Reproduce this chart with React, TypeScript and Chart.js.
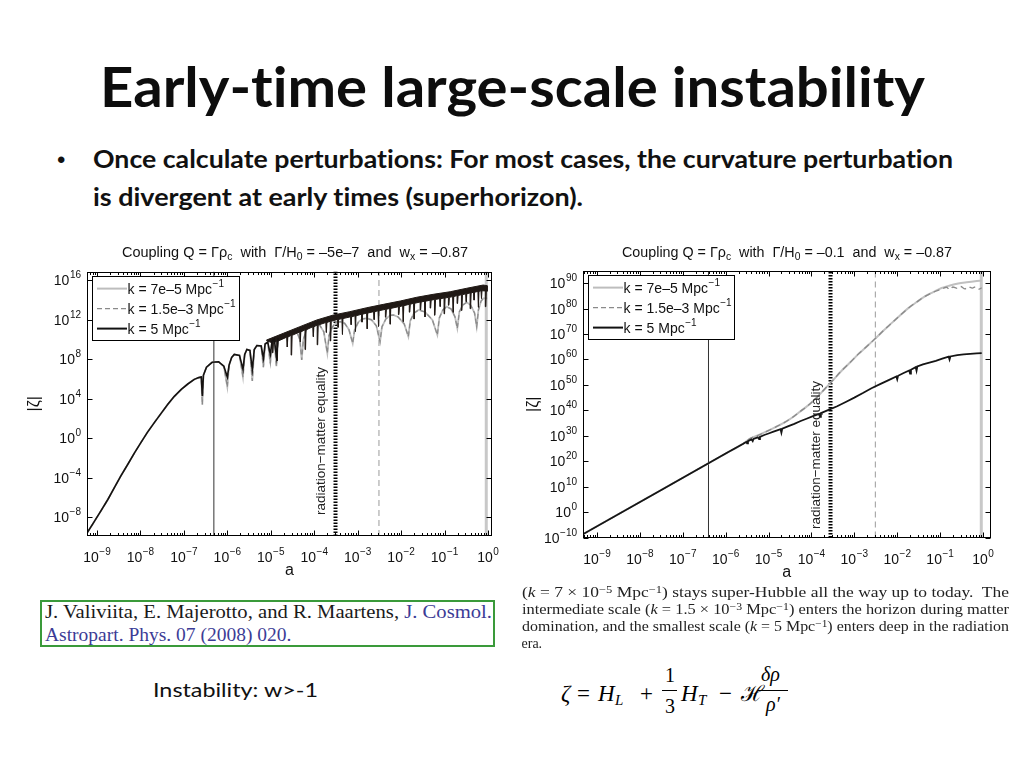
import React, { useEffect, useLayoutEffect, useRef } from "react";
import { Chart, registerables } from "chart.js";

Chart.register(...registerables);

const SANS = '"Liberation Sans", Arial, Helvetica, sans-serif';
const SERIF = '"Liberation Serif", "Times New Roman", "DejaVu Serif", serif';
const SLIDE = 'Lato, "Open Sans", "Noto Sans", sans-serif';
const K_LATO = 0.887;
const K_SANS = 0.846;
const K_SERIF = 0.8375;

// ===== Data (log10 a, log10 |zeta|) =====
// ---- Left panel: Γ/H0 = −5e−7 ----
const leftXTicks = [-9, -8, -7, -6, -5, -4, -3, -2, -1, 0];
const leftYTicks = [-8, -4, 0, 4, 8, 12, 16];

const leftEarlyLogA = [-9.23, -9.1, -8.91, -8.75, -8.6, -8.45, -8.29, -8.14, -7.99, -7.84, -7.68, -7.52, -7.37, -7.22, -7.06, -6.91, -6.76, -6.66];
const leftEarlyLogZeta = [-9.6, -8.7, -7.36, -6.2, -5.0, -3.8, -2.63, -1.5, -0.44, 0.6, 1.59, 2.55, 3.44, 4.25, 4.96, 5.5, 5.97, 6.15];

const leftOscLogA = [-6.6, -6.575, -6.55, -6.48, -6.35, -6.2, -6.08, -6.0, -5.96, -5.9, -5.84, -5.72, -5.64, -5.6, -5.55, -5.48, -5.425, -5.38, -5.32, -5.22, -5.17, -5.13, -5.07, -5.01, -4.97, -4.92, -4.87, -4.83];
const leftK5OscLogZeta = [6.21, 4.3, 6.4, 7.2, 7.7, 7.75, 7.3, 6.2, 7.4, 8.2, 8.5, 8.4, 7.0, 8.5, 9.0, 8.9, 7.0, 9.0, 9.4, 9.35, 8.1, 9.55, 9.75, 8.5, 9.85, 10.05, 8.3, 10.15];
const leftGrayOscLogZeta = [6.2, 3.4, 6.4, 7.2, 7.7, 7.75, 7.3, 5.2, 7.4, 8.2, 8.5, 8.4, 6.2, 8.5, 9.0, 8.9, 5.8, 9.0, 9.4, 9.35, 7.2, 9.55, 9.75, 7.6, 9.85, 10.05, 7.3, 10.15];

// dense fast-oscillation band of k = 5 (upper edge left->right, lower edge with spikes right->left)
const leftBandTopLogA = [-5.1, -4.71, -4.33, -3.94, -3.56, -3.18, -2.79, -2.41, -2.02, -1.64, -1.26, -0.87, -0.49, -0.11, -0.02];
const leftBandTopLogZeta = [9.95, 10.64, 11.31, 11.99, 12.49, 12.83, 13.23, 13.57, 13.91, 14.29, 14.59, 14.85, 15.2, 15.53, 15.46];
const leftBandBottomLogA = [
  -0.02,
  -0.038, -0.05, -0.062, -0.138, -0.15, -0.162, -0.208, -0.22, -0.232, -0.308, -0.32, -0.332,
  -0.388, -0.4, -0.412, -0.488, -0.5, -0.512, -0.588, -0.6, -0.612, -0.688, -0.7, -0.712,
  -0.788, -0.8, -0.812, -0.888, -0.9, -0.912, -0.988, -1.0, -1.012, -1.088, -1.1, -1.112,
  -1.208, -1.22, -1.232, -1.308, -1.32, -1.332, -1.438, -1.45, -1.462, -1.538, -1.55, -1.562,
  -1.688, -1.7, -1.712, -1.788, -1.8, -1.812, -1.938, -1.95, -1.962, -2.038, -2.05, -2.062,
  -2.238, -2.25, -2.262, -2.338, -2.35, -2.362, -2.508, -2.52, -2.532, -2.608, -2.62, -2.632,
  -2.768, -2.78, -2.792, -2.888, -2.9, -2.912, -3.038, -3.05, -3.062, -3.138, -3.15, -3.162,
  -3.338, -3.35, -3.362, -3.438, -3.45, -3.462, -3.608, -3.62, -3.632, -3.708, -3.72, -3.732,
  -3.908, -3.92, -3.932, -4.008, -4.02, -4.032, -4.188, -4.2, -4.212, -4.308, -4.32, -4.332,
  -4.508, -4.52, -4.532, -4.608, -4.62, -4.632, -4.838, -4.85, -4.862, -4.938, -4.95, -4.962,
  -5.1,
];
const leftBandBottomLogZeta = [
  14.9,
  14.93, 13.33, 14.93, 14.95, 14.15, 14.95, 14.88, 13.28, 14.88, 14.8, 14.0, 14.8,
  14.73, 13.13, 14.73, 14.64, 13.84, 14.64, 14.55, 12.95, 14.55, 14.46, 13.66, 14.46,
  14.36, 12.76, 14.36, 14.28, 13.48, 14.28, 14.21, 12.61, 14.21, 14.15, 13.35, 14.15,
  14.07, 12.47, 14.07, 13.99, 13.19, 13.99, 13.89, 12.29, 13.89, 13.81, 13.01, 13.81,
  13.68, 12.08, 13.68, 13.58, 12.78, 13.58, 13.43, 11.83, 13.43, 13.33, 12.53, 13.33,
  13.16, 11.56, 13.16, 13.07, 12.27, 13.07, 12.92, 11.32, 12.92, 12.83, 12.03, 12.83,
  12.69, 11.09, 12.69, 12.57, 11.77, 12.57, 12.41, 10.81, 12.41, 12.31, 11.51, 12.31,
  12.13, 10.53, 12.13, 12.04, 11.24, 12.04, 11.86, 9.86, 11.86, 11.73, 10.73, 11.73,
  11.47, 9.47, 11.47, 11.3, 10.3, 11.3, 10.99, 8.99, 10.99, 10.78, 9.78, 10.78,
  10.43, 8.43, 10.43, 10.25, 9.25, 10.25, 9.84, 7.84, 9.84, 9.66, 8.66, 9.66,
  9.9,
];

// larger scales after they leave the k = 5 curve
const leftGrayLateLogA = [-4.75, -4.55, -4.4, -4.33, -4.288, -4.25, -4.18, -4.08, -3.98, -3.88, -3.78, -3.698, -3.66, -3.58, -3.48, -3.4, -3.3, -3.2, -3.114, -3.07, -2.98, -2.88, -2.79, -2.68, -2.57, -2.485, -2.44, -2.35, -2.25, -2.18, -2.07, -1.93, -1.833, -1.79, -1.7, -1.6, -1.45, -1.28, -1.166, -1.12, -1.04, -0.95, -0.85, -0.76, -0.706, -0.66, -0.58, -0.49, -0.4, -0.31, -0.26, -0.22, -0.16, -0.107, -0.02];
const leftGrayLateLogZeta = [10.2, 10.5, 10.8, 10.0, 7.93, 10.0, 11.0, 11.5, 11.65, 11.5, 10.8, 8.61, 10.4, 11.3, 11.75, 11.82, 11.65, 11.0, 9.62, 11.0, 11.8, 12.1, 12.16, 12.0, 11.4, 9.79, 11.3, 12.1, 12.45, 12.49, 12.3, 11.6, 10.3, 11.9, 12.7, 13.0, 12.8, 12.0, 10.47, 12.2, 13.0, 13.34, 13.1, 12.3, 11.14, 12.8, 13.5, 13.78, 13.5, 12.7, 11.31, 13.0, 13.9, 14.18, 14.2];

const leftHorizonLogA = -6.31;
const leftEqLogA = -3.51;

// ---- Right panel: Γ/H0 = −0.1 ----
const rightXTicks = [-9, -8, -7, -6, -5, -4, -3, -2, -1, 0];
const rightYTicks = [-10, 0, 10, 20, 30, 40, 50, 60, 70, 80, 90];

const rightEarlyLogA = [-9.33, -7.5, -6.0, -5.6];
const rightEarlyLogZeta = [-8.75, 8.7, 23.0, 26.8];

const rightK5LateLogA = [-5.52, -5.5, -5.48, -5.4, -5.37, -5.35, -5.25, -5.22, -5.2, -5.1, -5.0, -4.9, -4.8, -4.72, -4.7, -4.68, -4.55, -4.4, -4.25, -4.1, -3.95, -3.82, -3.8, -3.78, -3.6, -3.4, -3.2, -3.0, -2.8, -2.6, -2.4, -2.2, -2.02, -2.0, -1.98, -1.85, -1.72, -1.7, -1.68, -1.57, -1.55, -1.53, -1.4, -1.25, -1.1, -0.95, -0.8, -0.78, -0.76, -0.6, -0.45, -0.3, -0.15, -0.03];
const rightK5LateLogZeta = [27.6, 27.0, 27.9, 28.6, 27.9, 28.8, 29.4, 28.7, 29.6, 30.3, 30.9, 31.5, 32.1, 32.6, 31.2, 32.8, 33.7, 34.7, 35.8, 36.8, 37.8, 38.6, 37.4, 38.9, 40.2, 41.6, 43.3, 45.0, 46.8, 48.7, 50.3, 51.9, 53.3, 52.2, 53.6, 54.7, 55.7, 54.5, 56.0, 57.0, 55.6, 57.3, 58.1, 58.8, 59.5, 60.3, 61.1, 60.0, 61.2, 61.7, 62.0, 62.2, 62.4, 62.5];

const rightMidLogA = [-5.433, -5.239, -5.044, -4.85, -4.656, -4.462, -4.267, -4.073, -3.878, -3.685, -3.49, -3.296, -3.1, -2.908, -2.712, -2.52, -2.325, -2.131, -1.935, -1.742, -1.546, -1.354, -1.159];
const rightMidLogZeta = [28.9, 30.2, 31.7, 33.3, 35.0, 37.0, 39.5, 42.0, 45.0, 48.5, 52.0, 55.6, 58.8, 62.1, 65.1, 68.1, 71.3, 74.3, 77.3, 80.2, 82.6, 84.8, 86.5];
const rightK7e5TailLogA = [-0.965, -0.77, -0.577, -0.38, -0.188, -0.03];
const rightK7e5TailLogZeta = [88.1, 89.1, 89.9, 90.4, 90.8, 91.0];
const rightK15e3TailLogA = [-1.05, -0.95, -0.85, -0.78, -0.7, -0.6, -0.52, -0.42, -0.34, -0.25, -0.17, -0.09, -0.03];
const rightK15e3TailLogZeta = [87.2, 87.8, 88.4, 87.5, 88.5, 88.0, 88.7, 87.8, 88.6, 88.1, 88.6, 87.7, 88.2];

const rightHorizonLogA = -6.4;
const rightEqLogA = -3.555;

// shared markers
const midScaleLogA = -2.51;
const todayLogA = -0.04;

// legend
const legendLabels = ["k = 7e\u20135 Mpc", "k = 1.5e\u20133 Mpc", "k = 5 Mpc"];
const legendColors = ["#bdbdbd", "#8a8a8a", "#111111"];
const legendWidths = [2, 1.3, 2];
const legendDashes: number[][] = [[], [5, 3], []];

// ===== helpers =====
type P = { x: number; y: number };
const toPts = (a: number[], z: number[]): P[] => a.map((v, i) => ({ x: v, y: z[i] }));
const vline = (v: number, y0: number, y1: number): P[] => [{ x: v, y: y0 }, { x: v, y: y1 }];

function ds(data: P[], color: string, width: number, order: number, dash: number[] = [], extra: any = {}) {
  return {
    data,
    borderColor: color,
    backgroundColor: color,
    borderWidth: width,
    borderDash: dash,
    pointRadius: 0,
    pointHoverRadius: 0,
    fill: false,
    tension: 0,
    order,
    ...extra,
  };
}

const fmtExp = (t: number) => (t < 0 ? "\u2212" + Math.abs(t) : String(t));

function drawPow(ctx: CanvasRenderingContext2D, x: number, y: number, exp: string, align: "center" | "right") {
  ctx.textAlign = "left";
  ctx.textBaseline = "alphabetic";
  ctx.font = `14px ${SANS}`;
  const wb = ctx.measureText("10").width;
  ctx.font = `10px ${SANS}`;
  const we = ctx.measureText(exp).width;
  const total = wb + 0.5 + we;
  const x0 = align === "center" ? x - total / 2 : x - total;
  ctx.font = `14px ${SANS}`;
  ctx.fillText("10", x0, y);
  ctx.font = `10px ${SANS}`;
  ctx.fillText(exp, x0 + wb + 0.5, y - 7);
}

interface Panel {
  box: { x: number; y: number; w: number; h: number };
  padding: { left: number; right: number; top: number; bottom: number };
  xMin: number;
  xMax: number;
  yMin: number;
  yMax: number;
  xTicks: number[];
  yTicks: number[];
  eqLogA: number;
  eqTextDy: number;
  zetaDx: number;
  legendW: number;
  datasets: () => any[];
}

function framePlugin(p: Panel) {
  return {
    id: "frame",
    afterDatasetsDraw(chart: any) {
      const ctx: CanvasRenderingContext2D = chart.ctx;
      const a = chart.chartArea;
      const xs = chart.scales.x;
      const ys = chart.scales.y;
      ctx.save();
      ctx.setLineDash([]);
      ctx.strokeStyle = "#000";
      ctx.lineWidth = 1;
      const L = Math.round(a.left) + 0.5;
      const R = Math.round(a.right) - 0.5;
      const T = Math.round(a.top) + 0.5;
      const B = Math.round(a.bottom) - 0.5;
      ctx.strokeRect(L, T, R - L, B - T);
      ctx.beginPath();
      for (const t of p.xTicks) {
        const px = Math.round(xs.getPixelForValue(t)) + 0.5;
        ctx.moveTo(px, B);
        ctx.lineTo(px, B - 5);
        ctx.moveTo(px, T);
        ctx.lineTo(px, T + 5);
      }
      for (let n = Math.floor(p.xMin); n < p.xMax; n++) {
        for (let m = 2; m < 10; m++) {
          const v = n + Math.log10(m);
          if (v <= p.xMin || v >= p.xMax) continue;
          const px = Math.round(xs.getPixelForValue(v)) + 0.5;
          ctx.moveTo(px, B);
          ctx.lineTo(px, B - 2.5);
          ctx.moveTo(px, T);
          ctx.lineTo(px, T + 2.5);
        }
      }
      for (const t of p.yTicks) {
        const py = Math.round(ys.getPixelForValue(t)) + 0.5;
        ctx.moveTo(L, py);
        ctx.lineTo(L + 5, py);
        ctx.moveTo(R, py);
        ctx.lineTo(R - 5, py);
      }
      ctx.stroke();

      ctx.fillStyle = "#111";
      for (const t of p.xTicks) drawPow(ctx, xs.getPixelForValue(t), a.bottom + 26, fmtExp(t), "center");
      for (const t of p.yTicks) drawPow(ctx, a.left - 6, ys.getPixelForValue(t) + 5, fmtExp(t), "right");

      ctx.font = `16px ${SANS}`;
      ctx.textAlign = "center";
      ctx.textBaseline = "alphabetic";
      ctx.fillText("a", (a.left + a.right) / 2, a.bottom + 39);
      ctx.save();
      ctx.translate(a.left - p.zetaDx, (a.top + a.bottom) / 2);
      ctx.rotate(-Math.PI / 2);
      ctx.textBaseline = "middle";
      ctx.fillText("|\u03b6|", 0, 0);
      ctx.restore();

      // radiation-matter equality label
      ctx.save();
      ctx.translate(xs.getPixelForValue(p.eqLogA) - 14, a.top + p.eqTextDy);
      ctx.rotate(-Math.PI / 2);
      ctx.font = `13.5px ${SANS}`;
      ctx.textAlign = "center";
      ctx.textBaseline = "middle";
      ctx.fillStyle = "#222";
      ctx.fillText("radiation\u2212matter equality", 0, 0);
      ctx.restore();

      // legend
      const lx = Math.round(a.left + 4.7);
      const ly = Math.round(a.top + 4.2);
      const lw = Math.round(p.legendW);
      const lh = 64;
      ctx.fillStyle = "#fff";
      ctx.fillRect(lx, ly, lw, lh);
      ctx.strokeStyle = "#000";
      ctx.lineWidth = 1;
      ctx.strokeRect(lx + 0.5, ly + 0.5, lw, lh);
      legendLabels.forEach((lab, i) => {
        const cy = ly + 12.6 + 20 * i;
        ctx.beginPath();
        ctx.strokeStyle = legendColors[i];
        ctx.lineWidth = legendWidths[i];
        ctx.setLineDash(legendDashes[i]);
        ctx.moveTo(lx + 5, cy);
        ctx.lineTo(lx + 35, cy);
        ctx.stroke();
        ctx.setLineDash([]);
        ctx.fillStyle = "#111";
        ctx.textAlign = "left";
        ctx.textBaseline = "alphabetic";
        ctx.font = `14px ${SANS}`;
        ctx.fillText(lab, lx + 35.6, cy + 5);
        const w = ctx.measureText(lab).width;
        ctx.font = `10px ${SANS}`;
        ctx.fillText("\u22121", lx + 36.1 + w, cy - 1.5);
      });
      ctx.restore();
    },
  };
}

const leftPanel: Panel = {
  box: { x: 20, y: 230, w: 485, h: 355 },
  padding: { left: 67, right: 13, top: 41.5, bottom: 49 },
  xMin: -9.23,
  xMax: 0.092,
  yMin: -9.9,
  yMax: 16.9,
  xTicks: leftXTicks,
  yTicks: leftYTicks,
  eqLogA: leftEqLogA,
  eqTextDy: 169.5,
  zetaDx: 52,
  legendW: 146.6,
  datasets: () => {
    const grayA = [...leftEarlyLogA, ...leftOscLogA, ...leftGrayLateLogA];
    const grayZ = [...leftEarlyLogZeta, ...leftGrayOscLogZeta, ...leftGrayLateLogZeta];
    return [
      ds(toPts([...leftEarlyLogA, ...leftOscLogA], [...leftEarlyLogZeta, ...leftK5OscLogZeta]), "#151210", 1.6, 1),
      ds(
        toPts([...leftBandTopLogA, ...leftBandBottomLogA], [...leftBandTopLogZeta, ...leftBandBottomLogZeta]),
        "#201915",
        1,
        1,
        [],
        { fill: "shape", backgroundColor: "#201915" }
      ),
      ds(toPts(grayA, grayZ), "#8a8a8a", 1.2, 2, [5, 3]),
      ds(toPts(grayA, grayZ), "#bdbdbd", 1.8, 3),
      ds(vline(leftHorizonLogA, -9.9, 16.9), "#333", 1, 6),
      ds(vline(leftEqLogA, -9.9, 16.9), "#000", 4, 6, [1.5, 1.5]),
      ds(vline(midScaleLogA, -9.9, 16.9), "#9a9a9a", 1, 6, [6, 4]),
      ds(vline(todayLogA, -9.9, 16.9), "#c8c8c8", 3, 6),
    ];
  },
};

const rightPanel: Panel = {
  box: { x: 512, y: 230, w: 493, h: 355 },
  padding: { left: 71, right: 14.5, top: 41, bottom: 47.5 },
  xMin: -9.326,
  xMax: 0.175,
  yMin: -10,
  yMax: 94.8,
  xTicks: rightXTicks,
  yTicks: rightYTicks,
  eqLogA: rightEqLogA,
  eqTextDy: 184,
  zetaDx: 49,
  legendW: 145.6,
  datasets: () => [
    ds(toPts([...rightEarlyLogA, ...rightK5LateLogA], [...rightEarlyLogZeta, ...rightK5LateLogZeta]), "#151515", 1.8, 1),
    ds(
      toPts([...rightEarlyLogA, ...rightMidLogA, ...rightK15e3TailLogA], [...rightEarlyLogZeta, ...rightMidLogZeta, ...rightK15e3TailLogZeta]),
      "#8a8a8a",
      1.3,
      2,
      [6, 4],
      { cubicInterpolationMode: "monotone" }
    ),
    ds(
      toPts([...rightEarlyLogA, ...rightMidLogA, ...rightK7e5TailLogA], [...rightEarlyLogZeta, ...rightMidLogZeta, ...rightK7e5TailLogZeta]),
      "#c0c0c0",
      2,
      3,
      [],
      { cubicInterpolationMode: "monotone" }
    ),
    ds(vline(rightHorizonLogA, -10, 94.8), "#333", 1, 6),
    ds(vline(rightEqLogA, -10, 94.8), "#000", 4, 6, [1.5, 1.5]),
    ds(vline(midScaleLogA, -10, 94.8), "#9a9a9a", 1, 6, [6, 4]),
    ds(vline(todayLogA, -10, 94.8), "#c8c8c8", 3, 6),
  ],
};

function PanelChart({ panel }: { panel: Panel }) {
  const ref = useRef<HTMLCanvasElement>(null);
  useEffect(() => {
    if (!ref.current) return;
    const chart = new Chart(ref.current, {
      type: "line",
      data: { datasets: panel.datasets() },
      options: {
        animation: false,
        responsive: false,
        devicePixelRatio: 1,
        events: [],
        layout: { padding: panel.padding },
        scales: {
          x: { type: "linear", min: panel.xMin, max: panel.xMax, display: false },
          y: { type: "linear", min: panel.yMin, max: panel.yMax, display: false },
        },
        plugins: { legend: { display: false }, tooltip: { enabled: false }, title: { display: false } },
        elements: { point: { radius: 0 }, line: { tension: 0 } },
      } as any,
      plugins: [framePlugin(panel)],
    });
    return () => chart.destroy();
  }, [panel]);
  const b = panel.box;
  return (
    <canvas
      ref={ref}
      width={b.w}
      height={b.h}
      style={{ position: "absolute", left: b.x, top: b.y, width: b.w, height: b.h }}
    />
  );
}

type TxtProps = {
  x: number;
  b: number;
  size: number;
  family: string;
  k: number;
  weight?: number;
  italic?: boolean;
  color?: string;
  fit?: number;
  children: React.ReactNode;
};

function Txt({ x, b, size, family, k, weight = 400, italic = false, color = "#000", fit, children }: TxtProps) {
  const ref = useRef<HTMLDivElement>(null);
  useLayoutEffect(() => {
    const el = ref.current;
    if (!el || !fit) return;
    el.style.transform = "none";
    const w = el.getBoundingClientRect().width;
    if (w > 0) el.style.transform = `scaleX(${fit / w})`;
  }, [fit]);
  return (
    <div
      ref={ref}
      style={{
        position: "absolute",
        left: x,
        top: b - k * size,
        fontSize: size,
        lineHeight: `${size}px`,
        fontFamily: family,
        fontWeight: weight,
        fontStyle: italic ? "italic" : "normal",
        fontVariantLigatures: "none",
        fontFeatureSettings: '"liga" 0, "clig" 0, "dlig" 0',
        color,
        whiteSpace: "pre",
        transformOrigin: "0 0",
      }}
    >
      {children}
    </div>
  );
}

const Sup = ({ children }: { children: React.ReactNode }) => (
  <span style={{ fontSize: "0.72em", position: "relative", top: "-0.45em" }}>{children}</span>
);
const Sub = ({ children }: { children: React.ReactNode }) => (
  <span style={{ fontSize: "0.72em", position: "relative", top: "0.3em" }}>{children}</span>
);
const Bar = ({ x, y, w }: { x: number; y: number; w: number }) => (
  <div style={{ position: "absolute", left: x, top: y, width: w, height: 1, background: "#000" }} />
);

const BLUE = "#3c3c96";

export default function App() {
  return (
    <div style={{ position: "fixed", left: 0, top: 0, width: 1024, height: 768, background: "#fff", overflow: "hidden" }}>
      <Txt x={100} b={108} size={56} family={SLIDE} k={K_LATO} weight={700} fit={825} color="#0d0d0d">
        {"Early-time large-scale instability"}
      </Txt>
      <Txt x={57} b={168} size={24} family={SANS} k={K_SANS} color="#111">
        {"\u2022"}
      </Txt>
      <Txt x={93} b={168} size={24} family={SLIDE} k={K_LATO} weight={700} fit={860} color="#111">
        {"Once calculate perturbations: For most cases, the curvature perturbation"}
      </Txt>
      <Txt x={93} b={206} size={24} family={SLIDE} k={K_LATO} weight={700} fit={490} color="#111">
        {"is divergent at early times (superhorizon)."}
      </Txt>

      <PanelChart panel={leftPanel} />
      <PanelChart panel={rightPanel} />

      <Txt x={122} b={257} size={14} family={SANS} k={K_SANS} fit={346} color="#111">
        <>Coupling Q = Γρ<Sub>c</Sub>{"  with  "}Γ/H<Sub>0</Sub>{" = \u20135e\u20137  and  "}w<Sub>x</Sub>{" = \u20130.87"}</>
      </Txt>
      <Txt x={622} b={257} size={14} family={SANS} k={K_SANS} fit={330} color="#111">
        <>Coupling Q = Γρ<Sub>c</Sub>{"  with  "}Γ/H<Sub>0</Sub>{" = \u20130.1  and  "}w<Sub>x</Sub>{" = \u20130.87"}</>
      </Txt>

      <div
        style={{
          position: "absolute",
          left: 40,
          top: 600,
          width: 455,
          height: 47,
          border: "2px solid #3a9a3a",
          boxSizing: "border-box",
        }}
      />
      <Txt x={45} b={618.5} size={19.5} family={SERIF} k={K_SERIF} fit={447} color="#1a1a1a">
        <>{"J. Valiviita, E. Majerotto, and R. Maartens, "}<span style={{ color: BLUE }}>J. Cosmol.</span></>
      </Txt>
      <Txt x={45} b={641.5} size={19.5} family={SERIF} k={K_SERIF} color={BLUE}>
        {"Astropart. Phys. 07 (2008) 020."}
      </Txt>

      <Txt x={521.5} b={598} size={14} family={SERIF} k={K_SERIF} fit={487} color="#222">
        <>(<i>k</i>{" = 7 × 10"}<Sup>−5</Sup>{" Mpc"}<Sup>−1</Sup>{") stays super-Hubble all the way up to today.  The"}</>
      </Txt>
      <Txt x={521.5} b={615} size={14} family={SERIF} k={K_SERIF} fit={487} color="#222">
        <>{"intermediate scale ("}<i>k</i>{" = 1.5 × 10"}<Sup>−3</Sup>{" Mpc"}<Sup>−1</Sup>{") enters the horizon during matter"}</>
      </Txt>
      <Txt x={521.5} b={632} size={14} family={SERIF} k={K_SERIF} fit={487} color="#222">
        <>{"domination, and the smallest scale ("}<i>k</i>{" = 5 Mpc"}<Sup>−1</Sup>{") enters deep in the radiation"}</>
      </Txt>
      <Txt x={521.5} b={649} size={14} family={SERIF} k={K_SERIF} color="#222">
        {"era."}
      </Txt>

      <Txt x={153} b={697} size={20} family={SLIDE} k={K_LATO} fit={165} color="#111">
        {"Instability: w>-1"}
      </Txt>

      {/* formula */}
      <Txt x={561} b={701} size={23} family={SERIF} k={K_SERIF} italic>{"\u03b6"}</Txt>
      <Txt x={577} b={701} size={23} family={SERIF} k={K_SERIF}>{"="}</Txt>
      <Txt x={598} b={701} size={23} family={SERIF} k={K_SERIF} italic>{"H"}</Txt>
      <Txt x={615} b={706} size={15} family={SERIF} k={K_SERIF} italic>{"L"}</Txt>
      <Txt x={640} b={701} size={23} family={SERIF} k={K_SERIF}>{"+"}</Txt>
      <Txt x={665} b={682} size={20} family={SERIF} k={K_SERIF}>{"1"}</Txt>
      <Bar x={662} y={690} w={15} />
      <Txt x={665} b={713} size={20} family={SERIF} k={K_SERIF}>{"3"}</Txt>
      <Txt x={681} b={701} size={23} family={SERIF} k={K_SERIF} italic>{"H"}</Txt>
      <Txt x={698} b={706} size={15} family={SERIF} k={K_SERIF} italic>{"T"}</Txt>
      <Txt x={719} b={701} size={23} family={SERIF} k={K_SERIF}>{"\u2212"}</Txt>
      <Txt x={741} b={701} size={22} family={SERIF} k={K_SERIF}>{"\u210b"}</Txt>
      <Txt x={761} b={681} size={20} family={SERIF} k={K_SERIF} italic>{"\u03b4\u03c1"}</Txt>
      <Bar x={758} y={690} w={30} />
      <Txt x={766} b={711} size={20} family={SERIF} k={K_SERIF} italic>{"\u03c1\u2032"}</Txt>
    </div>
  );
}
